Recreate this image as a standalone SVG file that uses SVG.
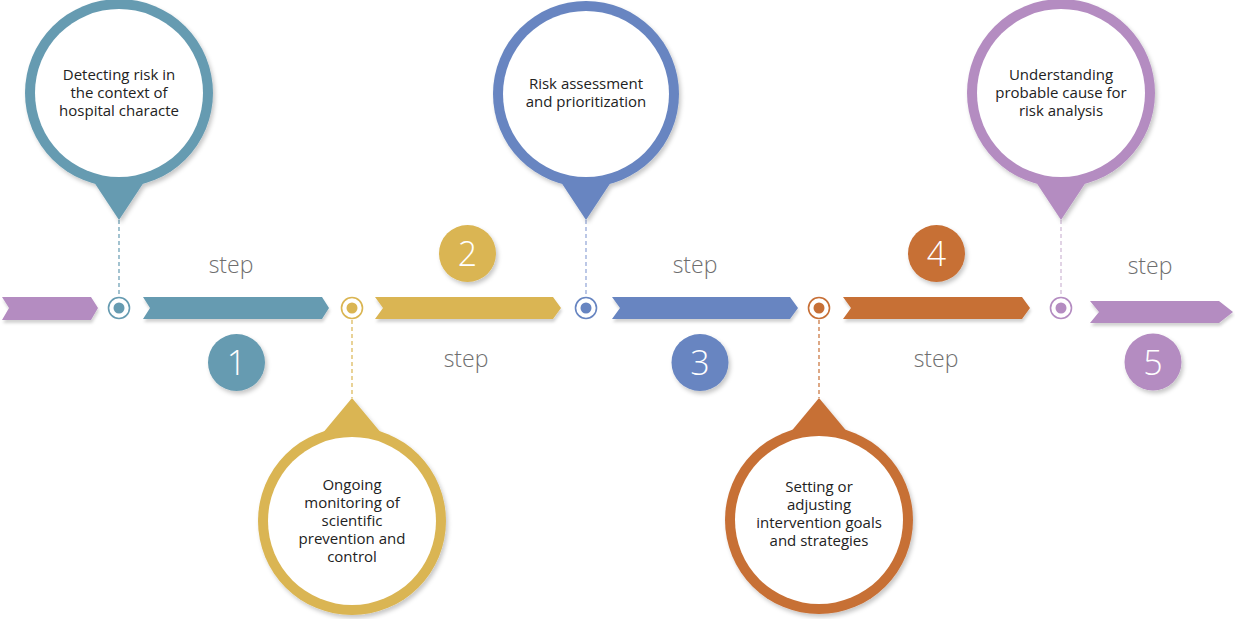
<svg xmlns="http://www.w3.org/2000/svg" width="1235" height="619" viewBox="0 0 1235 619">
<defs>
<filter id="sh" x="-20%" y="-20%" width="140%" height="150%">
<feDropShadow dx="2" dy="3" stdDeviation="2" flood-color="#000" flood-opacity="0.22"/>
</filter>
<filter id="shs" x="-10%" y="-30%" width="120%" height="180%">
<feDropShadow dx="1" dy="3" stdDeviation="1.5" flood-color="#000" flood-opacity="0.18"/>
</filter>
</defs>
<style>
.txt{font-family:"Open Sans","Noto Sans","Liberation Sans",sans-serif;font-size:15px;fill:#222;text-anchor:middle}
.step{font-family:"Open Sans","Noto Sans","Liberation Sans",sans-serif;font-size:23px;fill:#6e6e6e;text-anchor:middle;font-weight:300}
.num{font-family:"Open Sans","Noto Sans","Liberation Sans",sans-serif;font-size:34px;fill:#fff;text-anchor:middle;font-weight:300}
.dash{fill:none;stroke-width:1.2;stroke-dasharray:4 3}
.ring{fill:#fff;stroke-width:1.6}
.white{fill:#fff}
</style>
<rect width="1235" height="619" fill="#fff"/>

<g id="timeline">
<polygon filter="url(#shs)" fill="#b48cc1" points="2,297 91,297 98,308 91,320 2,320 9,308"/>
<polygon filter="url(#shs)" fill="#669bb1" points="143,297 322,297 329,308 322,319 143,319 150,308"/>
<polygon filter="url(#shs)" fill="#dab552" points="375,297 553,297 561,308 553,319 375,319 383,308"/>
<polygon filter="url(#shs)" fill="#6785c1" points="612,297 790,297 798,308 790,319 612,319 620,308"/>
<polygon filter="url(#shs)" fill="#c76f36" points="843,297 1022,297 1030,308 1022,319 843,319 851,308"/>
<polygon filter="url(#shs)" fill="#b48cc1" points="1090,301 1219,301 1233,312 1219,323 1090,323 1099,312"/>
</g>

<g id="connectors">
<line class="dash" stroke="#669bb1" x1="119" y1="220" x2="119" y2="297"/>
<line class="dash" stroke="#dab552" x1="352" y1="320" x2="352" y2="398"/>
<line class="dash" stroke="#8fa3d6" x1="586" y1="220" x2="586" y2="297"/>
<line class="dash" stroke="#c76f36" x1="819" y1="320" x2="819" y2="398"/>
<line class="dash" stroke="#cdb6d4" x1="1061" y1="220" x2="1061" y2="297"/>
</g>

<g id="marker1"><circle class="ring" stroke="#669bb1" cx="119" cy="308" r="10.5"/><circle fill="#669bb1" cx="119" cy="308" r="5.5"/></g>
<g id="marker2"><circle class="ring" stroke="#dab552" cx="352" cy="308" r="10.5"/><circle fill="#dab552" cx="352" cy="308" r="5.5"/></g>
<g id="marker3"><circle class="ring" stroke="#6785c1" cx="586" cy="308" r="10.5"/><circle fill="#6785c1" cx="586" cy="308" r="5.5"/></g>
<g id="marker4"><circle class="ring" stroke="#c76f36" cx="819" cy="308" r="10.5"/><circle fill="#c76f36" cx="819" cy="308" r="5.5"/></g>
<g id="marker5"><circle class="ring" stroke="#b48cc1" cx="1061" cy="308" r="10.5"/><circle fill="#b48cc1" cx="1061" cy="308" r="5.5"/></g>

<g id="bubble1">
<g filter="url(#sh)" fill="#669bb1"><circle cx="119" cy="93" r="94"/><polygon points="86,170 152,170 119,220"/></g>
<circle class="white" cx="119" cy="93" r="84"/>
<text class="txt" x="119" y="80">Detecting risk in</text>
<text class="txt" x="119" y="98">the context of</text>
<text class="txt" x="119" y="116">hospital characte</text>
</g>

<g id="bubble2">
<g filter="url(#sh)" fill="#dab552"><circle cx="352" cy="521" r="94"/><polygon points="352,398 387,440 317,440"/></g>
<circle class="white" cx="352" cy="521" r="84"/>
<text class="txt" x="352" y="490">Ongoing</text>
<text class="txt" x="352" y="508">monitoring of</text>
<text class="txt" x="352" y="526">scientific</text>
<text class="txt" x="352" y="544">prevention and</text>
<text class="txt" x="352" y="562">control</text>
</g>

<g id="bubble3">
<g filter="url(#sh)" fill="#6785c1"><circle cx="586" cy="94" r="93"/><polygon points="553,170 619,170 586,220"/></g>
<circle class="white" cx="586" cy="94" r="83"/>
<text class="txt" x="586" y="89">Risk assessment</text>
<text class="txt" x="586" y="107">and prioritization</text>
</g>

<g id="bubble4">
<g filter="url(#sh)" fill="#c76f36"><circle cx="819" cy="520" r="94"/><polygon points="819,398 854,440 784,440"/></g>
<circle class="white" cx="819" cy="520" r="84"/>
<text class="txt" x="819" y="492">Setting or</text>
<text class="txt" x="819" y="510">adjusting</text>
<text class="txt" x="819" y="528">intervention goals</text>
<text class="txt" x="819" y="546">and strategies</text>
</g>

<g id="bubble5">
<g filter="url(#sh)" fill="#b48cc1"><circle cx="1061" cy="93" r="94"/><polygon points="1028,170 1094,170 1061,220"/></g>
<circle class="white" cx="1061" cy="93" r="84"/>
<text class="txt" x="1061" y="80">Understanding</text>
<text class="txt" x="1061" y="98">probable cause for</text>
<text class="txt" x="1061" y="116">risk analysis</text>
</g>

<g id="num1"><circle filter="url(#sh)" fill="#669bb1" cx="236.5" cy="362.5" r="28.5"/><text class="num" x="236.5" y="375">1</text></g>
<g id="num2"><circle filter="url(#sh)" fill="#dab552" cx="467.5" cy="253.5" r="28.5"/><text class="num" x="467.5" y="266">2</text></g>
<g id="num3"><circle filter="url(#sh)" fill="#6785c1" cx="700" cy="362.5" r="28.5"/><text class="num" x="700" y="375">3</text></g>
<g id="num4"><circle filter="url(#sh)" fill="#c76f36" cx="936.5" cy="253.5" r="28.5"/><text class="num" x="936.5" y="266">4</text></g>
<g id="num5"><circle filter="url(#sh)" fill="#b48cc1" cx="1153" cy="362" r="28.5"/><text class="num" x="1153" y="374.5">5</text></g>

<g id="steps">
<text class="step" x="231" y="273">step</text>
<text class="step" x="466" y="367">step</text>
<text class="step" x="695" y="273">step</text>
<text class="step" x="936" y="367">step</text>
<text class="step" x="1150" y="274">step</text>
</g>
</svg>
